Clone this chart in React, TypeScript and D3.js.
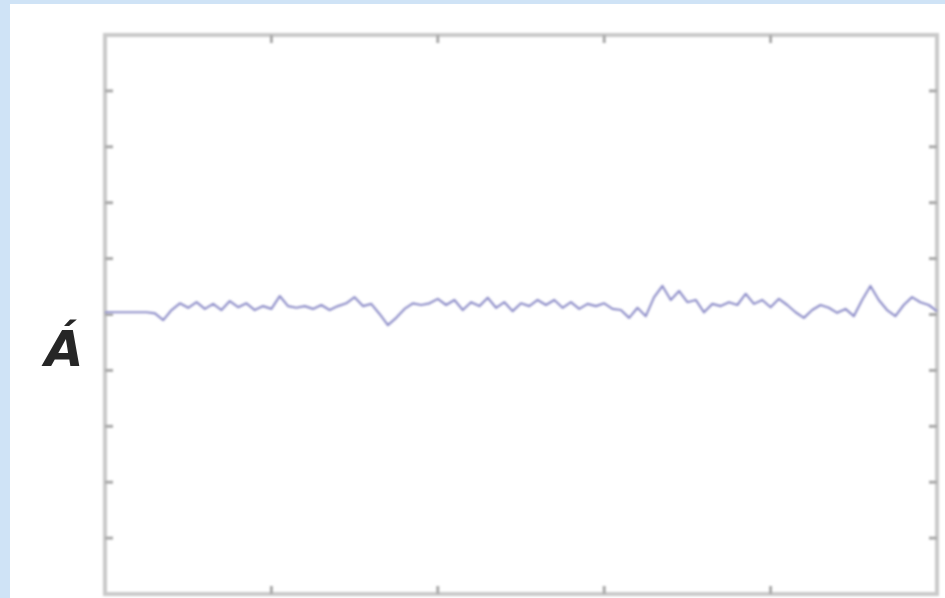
import React from "react";
import * as d3 from "d3";

const W = 945;
const H = 598;

// x positions (domain units) of the samples, and the sampled values
const xStart = 0;
const xStep = 0.05;
const seriesA: number[] = [
  0.04, 0.04, 0.04, 0.04, 0.04, 0.04, 0.02, -0.1, 0.08, 0.2,
  0.12, 0.22, 0.1, 0.19, 0.08, 0.24, 0.13, 0.2, 0.08, 0.15,
  0.1, 0.33, 0.15, 0.12, 0.15, 0.1, 0.17, 0.08, 0.15, 0.2,
  0.31, 0.15, 0.19, 0.01, -0.19, -0.06, 0.1, 0.2, 0.17, 0.2,
  0.28, 0.17, 0.26, 0.08, 0.22, 0.15, 0.3, 0.12, 0.22, 0.06,
  0.2, 0.15, 0.26, 0.17, 0.26, 0.12, 0.22, 0.1, 0.19, 0.15,
  0.2, 0.1, 0.08, -0.06, 0.12, -0.03, 0.31, 0.51, 0.26, 0.42,
  0.22, 0.26, 0.04, 0.19, 0.15, 0.22, 0.17, 0.37, 0.19, 0.26,
  0.13, 0.28, 0.17, 0.04, -0.06, 0.08, 0.17, 0.12, 0.03, 0.1,
  -0.03, 0.26, 0.51, 0.26, 0.08, -0.03, 0.17, 0.31, 0.22, 0.17,
  0.06,
];

const xTicks = [1, 2, 3, 4];
const yTicks = [-4, -3, -2, -1, 0, 1, 2, 3, 4];
const yLabel = "Á";

export default function App() {
  const left = 105;
  const right = 937;
  const top = 35;
  const bottom = 594;

  const x = d3.scaleLinear().domain([0, 5]).range([left, right]);
  const y = d3.scaleLinear().domain([-5, 5]).range([bottom, top]);

  const data = seriesA.map((v, i) => [xStart + i * xStep, v] as [number, number]);
  const line = d3
    .line<[number, number]>()
    .x((d) => x(d[0]))
    .y((d) => y(d[1]))
    .curve(d3.curveLinear);

  const tickLen = 8;
  const frameColor = "#c9c9c9";
  const tickColor = "#a8a8a8";

  return (
    <svg
      width={W}
      height={H}
      style={{ position: "fixed", left: 0, top: 0, display: "block" }}
    >
      <defs>
        <filter id="soft" x="-5%" y="-50%" width="110%" height="200%">
          <feGaussianBlur stdDeviation="0.9" />
        </filter>
        <filter id="softer" x="-5%" y="-5%" width="110%" height="110%">
          <feGaussianBlur stdDeviation="0.8" />
        </filter>
      </defs>
      <rect x={0} y={0} width={W} height={H} fill="#cfe3f6" />
      <rect x={10} y={4} width={W - 10} height={H - 4} fill="#ffffff" />

      {/* frame */}
      <g filter="url(#softer)">
        <rect
          x={left}
          y={top}
          width={right - left}
          height={bottom - top}
          fill="none"
          stroke={frameColor}
          strokeWidth={4}
        />
        {xTicks.map((t) => (
          <g key={"xt" + t}>
            <line x1={x(t)} x2={x(t)} y1={top} y2={top + tickLen} stroke={tickColor} strokeWidth={3} />
            <line x1={x(t)} x2={x(t)} y1={bottom} y2={bottom - tickLen} stroke={tickColor} strokeWidth={3} />
          </g>
        ))}
        {yTicks.map((t) => (
          <g key={"yt" + t}>
            <line x1={left} x2={left + tickLen} y1={y(t)} y2={y(t)} stroke={tickColor} strokeWidth={3} />
            <line x1={right} x2={right - tickLen} y1={y(t)} y2={y(t)} stroke={tickColor} strokeWidth={3} />
          </g>
        ))}
      </g>

      {/* series */}
      <path
        d={line(data) ?? ""}
        fill="none"
        stroke="#8f8fc9"
        strokeWidth={2.2}
        strokeLinejoin="round"
        filter="url(#soft)"
      />

      {/* y label */}
      <text
        x={64}
        y={y(-0.92)}
        textAnchor="middle"
        fontFamily="DejaVu Sans, sans-serif"
        fontStyle="italic"
        fontWeight="bold"
        fontSize={50}
        fill="#262626"
      >
        {yLabel}
      </text>
    </svg>
  );
}
